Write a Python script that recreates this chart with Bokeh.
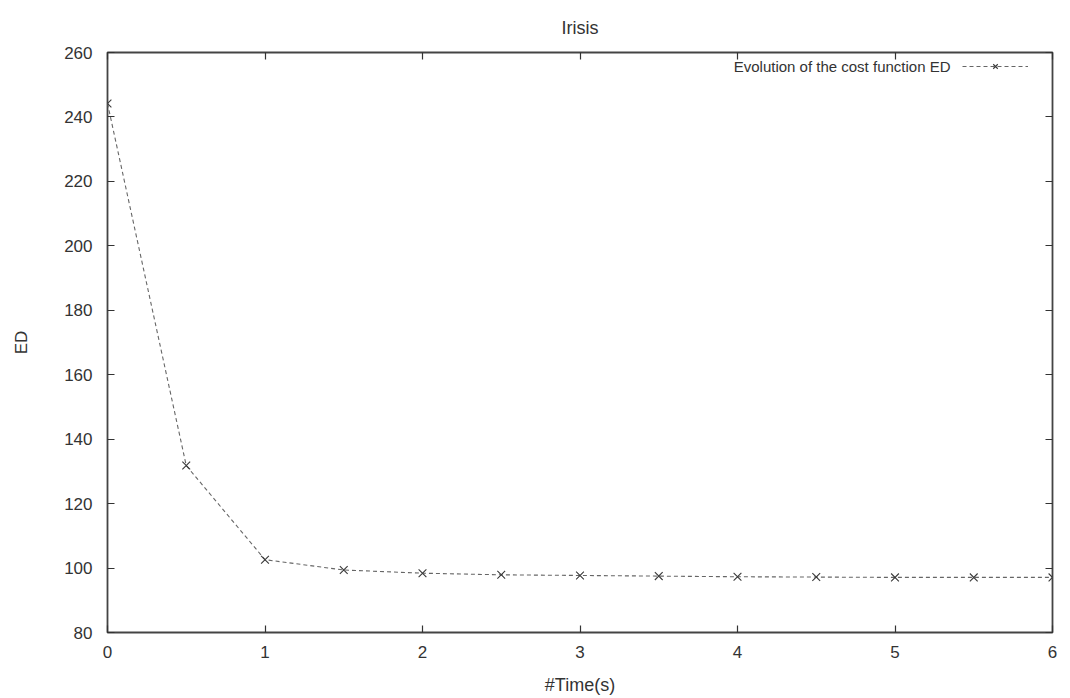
from bokeh.plotting import figure
from bokeh.models import (LinearAxis, Range1d, Legend, LegendItem, Label,
                          FixedTicker)
from bokeh.core.properties import value
from bokeh.embed import file_html
from bokeh.resources import INLINE

# ---- data ----
time_s = [0, 0.5, 1, 1.5, 2, 2.5, 3, 3.5, 4, 4.5, 5, 5.5, 6]
ed = [244.2, 131.8, 102.6, 99.4, 98.4, 97.9, 97.7, 97.5, 97.3, 97.2, 97.1, 97.1, 97.1]
x_ticks = [0, 1, 2, 3, 4, 5, 6]
y_ticks = [80, 100, 120, 140, 160, 180, 200, 220, 240, 260]
title_text = "Irisis"
x_label = "#Time(s)"
y_label = "ED"
series_label = "Evolution of the cost function ED"

FONT = "Liberation Sans"

p = figure(width=1062, height=697, output_backend="svg", toolbar_location=None,
           x_range=Range1d(0, 6), y_range=Range1d(80, 260),
           min_border_left=107, min_border_right=10, min_border_top=50,
           min_border_bottom=64)

p.title.text = title_text
p.title.align = "center"
p.title.text_font = FONT
p.title.text_font_size = "18px"
p.title.text_font_style = "normal"
p.title.text_color = "#333333"
p.title.standoff = 30

p.xgrid.visible = False
p.ygrid.visible = False
p.outline_line_color = "#444444"
p.outline_line_width = 1.8
p.background_fill_color = "white"
p.border_fill_color = "white"


def style_axis(ax, ticks, show_labels=True):
    ax.ticker = FixedTicker(ticks=ticks)
    ax.axis_line_color = None
    ax.major_tick_in = 7
    ax.major_tick_out = 0
    ax.minor_tick_in = 0
    ax.minor_tick_out = 0
    ax.major_tick_line_color = "#333333"
    ax.major_tick_line_width = 1.2
    ax.major_label_text_font = FONT
    ax.major_label_text_font_size = "17px"
    ax.major_label_text_color = "#333333"
    ax.axis_label_text_font = FONT
    ax.axis_label_text_font_size = "18px"
    ax.axis_label_text_font_style = "normal"
    ax.axis_label_text_color = "#333333"
    if not show_labels:
        ax.major_label_text_alpha = 0
        ax.major_label_text_font_size = "1px"
        ax.major_label_standoff = 0


style_axis(p.xaxis[0], x_ticks)
style_axis(p.yaxis[0], y_ticks)
p.xaxis[0].axis_label = x_label
p.yaxis[0].axis_label = y_label
p.yaxis[0].axis_label_text_font_size = "17px"
p.xaxis[0].major_label_standoff = 13
p.xaxis[0].axis_label_standoff = 14
p.yaxis[0].major_label_standoff = 15
p.yaxis[0].axis_label_standoff = 30

top = LinearAxis()
style_axis(top, x_ticks, show_labels=False)
p.add_layout(top, "above")
right = LinearAxis()
style_axis(right, y_ticks, show_labels=False)
p.add_layout(right, "right")

line = p.line(time_s, ed, line_color="#666666", line_width=1.1, line_dash="4 3")
pts = p.scatter(time_s, ed, marker="x", size=11, line_color="#3a3a3a", line_width=1.1)

legend = Legend(items=[LegendItem(label=value(" "), renderers=[line, pts])],
                location=(855, 558), padding=0, margin=0, spacing=0,
                glyph_width=66, glyph_height=16, label_height=16,
                label_standoff=0, label_text_font_size="2px",
                border_line_color=None, background_fill_alpha=0)
p.add_layout(legend, "center")

lab = Label(x=843, y=566, x_units="screen", y_units="screen", text=series_label,
            text_align="right", text_baseline="middle", text_font=FONT,
            text_font_size="15px", text_color="#333333")
p.add_layout(lab)

open("out.html", "w").write(file_html(p, INLINE))
